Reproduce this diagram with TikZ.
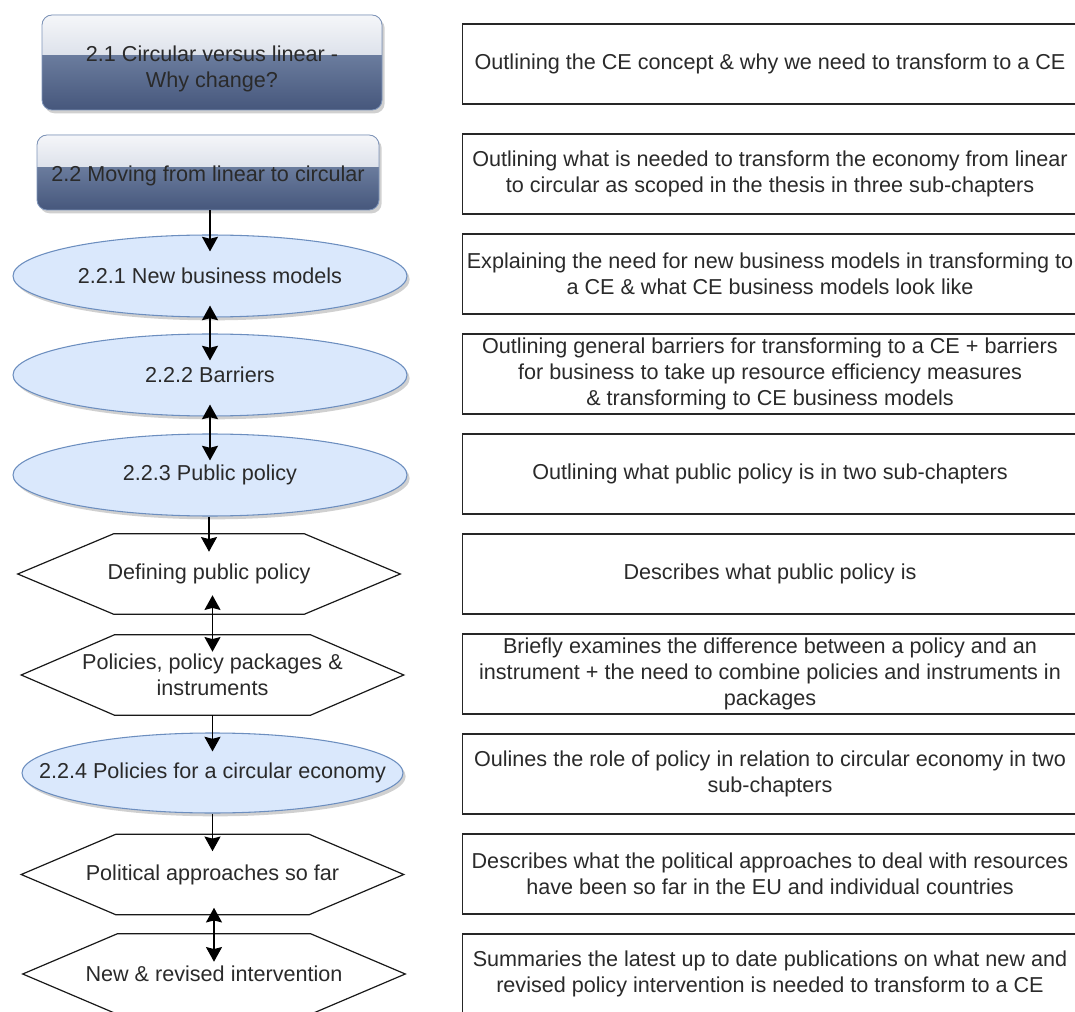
\documentclass[tikz,border=0pt]{standalone}
\usepackage{fontspec}
\setmainfont{Liberation Sans}
\usetikzlibrary{arrows.meta,shadows,calc,shapes.geometric}

\definecolor{ink}{HTML}{2A2A2A}
\definecolor{glassTop}{HTML}{F5F6F9}
\definecolor{glassMid}{HTML}{BDC7D8}
\definecolor{slateA}{HTML}{8597B6}
\definecolor{slateB}{HTML}{46577C}
\definecolor{glassEdge}{HTML}{7F95BA}
\definecolor{ellFill}{HTML}{DAE8FC}
\definecolor{ellLine}{HTML}{6C8EBF}

% hexagonal outline around an (invisible) rectangular node
\newcommand\hexoutline[2]{%
  \draw[hexline] (#1.west) -- ([xshift=#2]#1.north west) -- ([xshift=-#2]#1.north east)
    -- (#1.east) -- ([xshift=-#2]#1.south east) -- ([xshift=#2]#1.south west) -- cycle;}
% centred label set a little lower inside the glossy boxes
\newcommand\glasstext[2]{\raisebox{-#1}[\height][\depth]{\begin{tabular}{@{}c@{}}#2\end{tabular}}}

\begin{document}
\begin{tikzpicture}[x=0.75pt,y=-0.75pt,
  every node/.style={font=\fontsize{16.2pt}{19.8pt}\selectfont, text=ink, align=center},
  softshadow/.style={drop shadow={shadow xshift=2pt, shadow yshift=-2.5pt, opacity=0.3, fill=black!60}},
  chapterbox/.style={rectangle, rounded corners=7.5pt, draw=glassEdge, line width=0.6pt,
    inner sep=0pt, softshadow, top color=slateA, bottom color=slateB,
    path picture={\fill[sharp corners, top color=glassTop, bottom color=glassMid]
      (path picture bounding box.north west) rectangle
      ($(path picture bounding box.north east)!0.42!(path picture bounding box.south east)$);}},
  ellnode/.style={ellipse, draw=ellLine, line width=0.8pt, fill=ellFill, inner sep=0pt, softshadow},
  hexnode/.style={rectangle, inner sep=0pt, minimum width=286.5pt, minimum height=60pt},
  hexline/.style={draw=black!90, line width=0.9pt},
  descbox/.style={rectangle, draw=black!85, line width=1.1pt, inner sep=0pt,
    minimum width=461.6pt, minimum height=60pt},
  arrowone/.style={line width=1.3pt, -{Stealth[length=11pt,width=12pt,inset=1.5pt]}},
  arrowtwo/.style={line width=1.3pt, {Stealth[length=11pt,width=12pt,inset=1.5pt]}-{Stealth[length=11pt,width=12pt,inset=1.5pt]}}
]
\useasboundingbox (0,0) rectangle (1075,1012);
\clip (0,0) rectangle (1075,1012);
\fill[white] (0,0) rectangle (1075,1012);

% ---- chapter column ----
\node[chapterbox, minimum width=255pt, minimum height=71.25pt] (r1) at (212,62.5)
  {\glasstext{5pt}{2.1 Circular versus linear -\\Why change?}};
\node[chapterbox, minimum width=256.5pt, minimum height=56.25pt] (r2) at (208,172.5)
  {\glasstext{3pt}{2.2 Moving from linear to circular}};

\node[ellnode, minimum width=295.5pt, minimum height=61.5pt] (e1) at (210,276) {2.2.1 New business models};
\node[ellnode, minimum width=295.5pt, minimum height=61.5pt] (e2) at (210,375) {2.2.2 Barriers};
\node[ellnode, minimum width=295.5pt, minimum height=61.5pt] (e3) at (210,475) {2.2.3 Public policy};

\node[hexnode] (h1) at (209,574) {Defining public policy};
\hexoutline{h1}{72pt}
\node[hexnode] (h2) at (212.5,675) {Policies, policy packages \&\\instruments};
\hexoutline{h2}{70pt}

\node[ellnode, minimum width=285.75pt, minimum height=60pt] (e4) at (212.5,773)
  {\makebox[0pt]{2.2.4 Policies for a circular economy}};

\node[hexnode] (h3) at (212.5,874.5) {Political approaches so far};
\hexoutline{h3}{71pt}
\node[hexnode] (h4) at (214,974) {New \& revised intervention};
\hexoutline{h4}{71pt}

% ---- connectors ----
\draw[arrowone] (r2.south -| e1.north) -- ($(e1.north)+(0,17)$);
\draw[arrowtwo] ($(e1.south)+(0,-12)$) -- ($(e2.north)+(0,27)$);
\draw[arrowtwo] ($(e2.south)+(0,-12)$) -- ($(e3.north)+(0,27)$);
\draw[arrowone] (e3.south -| h1.north) -- ($(h1.north)+(0,18)$);
\draw[arrowtwo] ($(h1.south -| h2.north)+(0,-19)$) -- ($(h2.north)+(0,17)$);
\draw[arrowone] (h2.south -| e4.north) -- ($(e4.north)+(0,19)$);
\draw[arrowone] (e4.south -| h3.north) -- ($(h3.north)+(0,17)$);
\draw[arrowtwo] ($(h3.south -| h4.north)+(0,-7)$) -- ($(h4.north)+(0,28)$);

% ---- description column ----
\node[descbox] (d1) at (770,64) {Outlining the CE concept \& why we need to transform to a CE};
\node[descbox] (d2) at (770,174) {Outlining what is needed to transform the economy from linear\\to circular as scoped in the thesis in three sub-chapters};
\node[descbox] (d3) at (770,274) {Explaining the need for new business models in transforming to\\a CE \& what CE business models look like};
\node[descbox] (d4) at (770,374) {Outlining general barriers for transforming to a CE + barriers\\for business to take up resource efficiency measures\\\& transforming to CE business models};
\node[descbox] (d5) at (770,474) {Outlining what public policy is in two sub-chapters};
\node[descbox] (d6) at (770,574) {Describes what public policy is};
\node[descbox] (d7) at (770,674) {Briefly examines the difference between a policy and an\\instrument + the need to combine policies and instruments in\\packages};
\node[descbox] (d8) at (770,774) {Oulines the role of policy in relation to circular economy in two\\sub-chapters};
\node[descbox] (d9) at (770,874) {Describes what the political approaches to deal with resources\\have been so far in the EU and individual countries};
\node[descbox] (d10) at (770,974) {Summaries the latest up to date publications on what new and\\revised policy intervention is needed to transform to a CE};
\end{tikzpicture}
\end{document}
